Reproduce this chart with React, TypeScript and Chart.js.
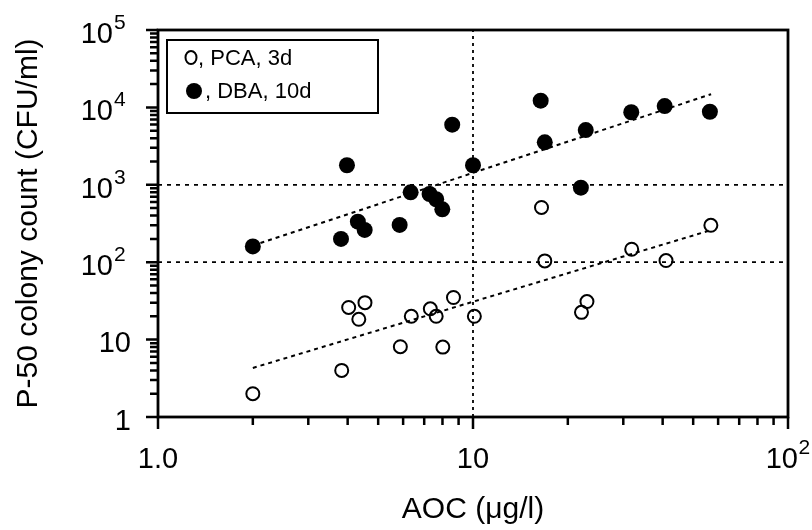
import React, { useEffect, useRef } from "react";
import { Chart, registerables } from "chart.js";
Chart.register(...registerables);

// PCA, 3d (open circles)
const pcaX = [2.0, 3.83, 4.03, 4.34, 4.54, 5.88, 6.37, 7.32, 7.64, 8.02, 8.67, 10.1, 16.5, 16.9, 22.1, 23.0, 31.9, 41.0, 56.9];
const pcaY = [2.0, 4.0, 26, 18.3, 30, 8.1, 20, 25, 20, 8.0, 35, 20, 510, 104, 22.5, 31, 147, 105, 300];
// DBA, 10d (filled circles)
const dbaX = [2.0, 3.81, 3.98, 4.31, 4.53, 5.85, 6.34, 7.28, 7.64, 7.99, 8.59, 10.0, 16.4, 16.9, 22.0, 22.8, 31.8, 40.6, 56.5];
const dbaY = [160, 200, 1790, 334, 261, 303, 800, 760, 650, 482, 5980, 1790, 12200, 3540, 918, 5100, 8650, 10400, 8790];
// regression lines
const pcaFitX = [2.0, 57];
const pcaFitY = [4.3, 260];
const dbaFitX = [2.0, 57];
const dbaFitY = [164, 14800];
// reference lines
const refLineX = [10];
const refLineY = [100, 1000];
// axes (base ^ exponent)
const xMajor = [1, 10, 100];
const xTickLabels = ["1.0", "10", "10^2"];
const yMajor = [1, 10, 100, 1000, 10000, 100000];
const yTickLabels = ["1", "10", "10^2", "10^3", "10^4", "10^5"];
const legendLabels = [", PCA, 3d", ", DBA, 10d"];
const xTitle = "AOC (μg/l)";
const yTitle = "P-50 colony count (CFU/ml)";

const FONT = "'Liberation Sans', Arial, Helvetica, sans-serif";

function withMinors(majors: number[]) {
  const out: number[] = [];
  for (let i = 0; i < majors.length; i++) {
    out.push(majors[i]);
    if (i < majors.length - 1) for (let m = 2; m <= 9; m++) out.push(majors[i] * m);
  }
  return out;
}
const xAll = withMinors(xMajor);
const yAll = withMinors(yMajor);

const BASE_FONT = `29px ${FONT}`;
const SUP_FONT = `21px ${FONT}`;

const framePlugin = {
  id: "frame",
  afterDatasetsDraw(chart: any) {
    const { ctx, chartArea: a, scales } = chart;
    ctx.save();
    ctx.setLineDash([]);
    ctx.strokeStyle = "#000";
    ctx.fillStyle = "#000";
    ctx.lineWidth = 2.8;
    ctx.strokeRect(a.left, a.top, a.right - a.left, a.bottom - a.top);
    ctx.lineWidth = 2.5;
    ctx.beginPath();
    for (const v of xAll) {
      const px = scales.x.getPixelForValue(v);
      const len = xMajor.includes(v) ? 12 : 8;
      ctx.moveTo(px, a.bottom);
      ctx.lineTo(px, a.bottom + len);
    }
    for (const v of yAll) {
      const py = scales.y.getPixelForValue(v);
      const len = yMajor.includes(v) ? 12 : 8;
      ctx.moveTo(a.left, py);
      ctx.lineTo(a.left - len, py);
    }
    ctx.stroke();

    // tick labels
    ctx.textBaseline = "alphabetic";
    xMajor.forEach((v, i) => {
      const px = scales.x.getPixelForValue(v);
      const [base, exp] = xTickLabels[i].split("^");
      const by = a.bottom + 51;
      ctx.font = BASE_FONT;
      if (exp) {
        ctx.textAlign = "right";
        ctx.fillText(base, px + 10, by);
        ctx.font = SUP_FONT;
        ctx.textAlign = "left";
        ctx.fillText(exp, px + 10.5, by - 14);
      } else {
        ctx.textAlign = "center";
        ctx.fillText(base, px, by);
      }
    });
    yMajor.forEach((v, i) => {
      const py = scales.y.getPixelForValue(v);
      const [base, exp] = yTickLabels[i].split("^");
      const by = py + 12.8;
      ctx.font = BASE_FONT;
      if (exp) {
        ctx.textAlign = "right";
        ctx.fillText(base, a.left - 45, by);
        ctx.font = SUP_FONT;
        ctx.textAlign = "left";
        ctx.fillText(exp, a.left - 44, by - 14);
      } else {
        ctx.textAlign = "right";
        ctx.fillText(base, a.left - 27, by);
      }
    });

    // legend box
    const lx = a.left + 9;
    const ly = a.top + 10;
    ctx.lineWidth = 2;
    ctx.fillStyle = "#fff";
    ctx.fillRect(lx, ly, 211, 73);
    ctx.strokeRect(lx, ly, 211, 73);
    ctx.fillStyle = "#000";
    ctx.font = `22px ${FONT}`;
    ctx.textAlign = "left";
    ctx.beginPath();
    ctx.ellipse(lx + 24, ly + 17.5, 5.5, 6.5, 0, 0, Math.PI * 2);
    ctx.stroke();
    ctx.fillText(legendLabels[0], lx + 31, ly + 25);
    ctx.beginPath();
    ctx.arc(lx + 27, ly + 51, 8, 0, Math.PI * 2);
    ctx.fill();
    ctx.fillText(legendLabels[1], lx + 38, ly + 58);
    ctx.restore();
  },
};

export default function App() {
  const ref = useRef<HTMLCanvasElement>(null);
  useEffect(() => {
    const chart = new Chart(ref.current as HTMLCanvasElement, {
      type: "scatter",
      data: {
        datasets: [
          {
            label: "PCA, 3d",
            data: pcaX.map((x, i) => ({ x, y: pcaY[i] })),
            pointStyle: "circle",
            pointRadius: 6.5,
            pointBorderWidth: 2,
            borderColor: "#000",
            backgroundColor: "rgba(0,0,0,0)",
          },
          {
            label: "DBA, 10d",
            data: dbaX.map((x, i) => ({ x, y: dbaY[i] })),
            pointStyle: "circle",
            pointRadius: 8,
            pointBorderWidth: 0,
            borderColor: "#000",
            backgroundColor: "#000",
          },
          {
            type: "line",
            label: "PCA fit",
            data: pcaFitX.map((x, i) => ({ x, y: pcaFitY[i] })),
            borderColor: "#000",
            borderWidth: 2,
            borderDash: [4, 4],
            pointRadius: 0,
            fill: false,
          },
          {
            type: "line",
            label: "DBA fit",
            data: dbaFitX.map((x, i) => ({ x, y: dbaFitY[i] })),
            borderColor: "#000",
            borderWidth: 2,
            borderDash: [4, 4],
            pointRadius: 0,
            fill: false,
          },
          ...refLineX.map((v) => ({
            type: "line" as const,
            label: "x ref",
            data: [{ x: v, y: yMajor[0] }, { x: v, y: yMajor[yMajor.length - 1] }],
            borderColor: "#000",
            borderWidth: 1.8,
            borderDash: [3, 4],
            pointRadius: 0,
            fill: false,
          })),
          ...refLineY.map((v) => ({
            type: "line" as const,
            label: "y ref",
            data: [{ x: xMajor[0], y: v }, { x: xMajor[xMajor.length - 1], y: v }],
            borderColor: "#000",
            borderWidth: 1.8,
            borderDash: [4, 5],
            pointRadius: 0,
            fill: false,
          })),
        ],
      },
      options: {
        animation: false,
        responsive: true,
        maintainAspectRatio: false,
        layout: { padding: { left: 0, top: 30, right: 24, bottom: 0 } },
        plugins: { legend: { display: false }, tooltip: { enabled: false } },
        scales: {
          x: {
            type: "logarithmic",
            min: 1,
            max: 100,
            afterBuildTicks: (s: any) => {
              s.ticks = xAll.map((v) => ({ value: v }));
            },
            afterFit: (s: any) => {
              s.height = 113;
            },
            grid: { display: false },
            border: { display: false },
            ticks: { display: false },
            title: { display: true, text: xTitle, color: "#000", font: { family: FONT, size: 30 }, padding: { top: 0, bottom: 2 } },
          },
          y: {
            type: "logarithmic",
            min: 1,
            max: 100000,
            afterBuildTicks: (s: any) => {
              s.ticks = yAll.map((v) => ({ value: v }));
            },
            afterFit: (s: any) => {
              s.width = 158;
            },
            grid: { display: false },
            border: { display: false },
            ticks: { display: false },
            title: { display: true, text: yTitle, color: "#000", font: { family: FONT, size: 30 }, padding: { top: 11, bottom: 0 } },
          },
        },
      },
      plugins: [framePlugin],
    } as any);
    return () => chart.destroy();
  }, []);
  return (
    <div style={{ position: "fixed", left: 0, top: 0, width: 812, height: 530, background: "#fff" }}>
      <canvas ref={ref} />
    </div>
  );
}
